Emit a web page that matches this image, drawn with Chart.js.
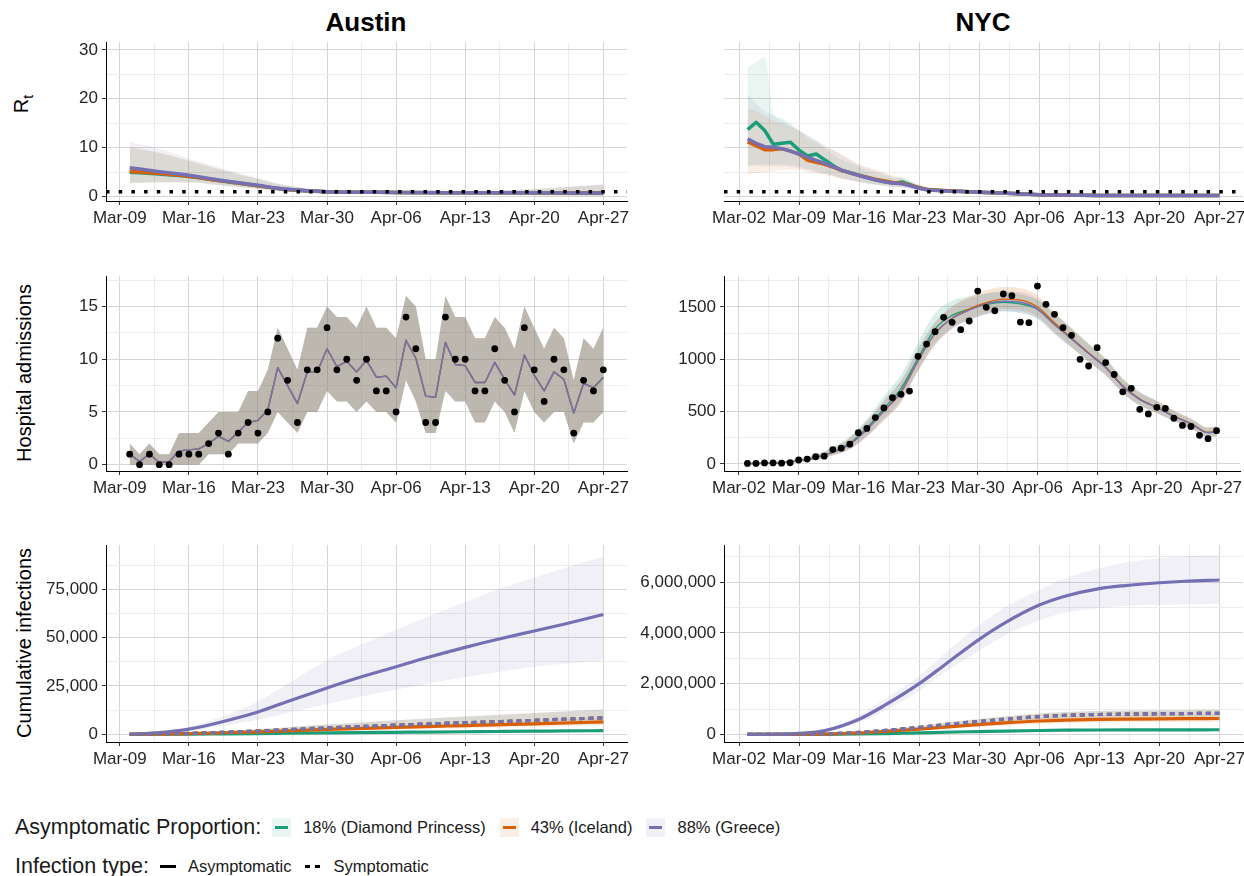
<!DOCTYPE html>
<html>
<head>
<meta charset="utf-8">
<script src="https://cdn.jsdelivr.net/npm/chart.js@4.4.1/dist/chart.umd.min.js"></script>
<style>
  body { margin: 0; background: #fff; width: 1244px; height: 876px; position: relative; overflow: hidden;
         font-family: 'Liberation Sans', Arial, sans-serif; color: #000; }
  canvas { position: absolute; }
  .ttl { position: absolute; font-weight: bold; font-size: 26px; line-height: 30px; transform: translateX(-50%); white-space: nowrap; }
  .ylab { position: absolute; font-size: 20px; line-height: 24px; white-space: nowrap; transform: translate(-50%, -50%) rotate(-90deg); }
  .ylab sub { font-size: 14px; }
  .leg { position: absolute; left: 15px; display: flex; align-items: center; height: 26px; white-space: nowrap; color: #1a1a1a; }
  .lt { font-size: 21.5px; margin-right: 11px; }
  .ll { font-size: 16.5px; margin-right: 14px; }
  .key { position: relative; width: 19px; height: 19px; margin-right: 12px; }
  .key i { position: absolute; left: 3px; right: 3px; top: 8px; height: 3px; }
  .lk { position: relative; width: 16px; height: 18px; margin-right: 12px; }
  .lk i { position: absolute; top: 7.5px; height: 3px; background: #000; }
</style>
</head>
<body>
<div class="ttl" style="left:366px;top:7px">Austin</div>
<div class="ttl" style="left:983px;top:7px">NYC</div>
<div class="ylab" style="left:24px;top:104px">R<sub>t</sub></div>
<div class="ylab" style="left:24px;top:373px">Hospital admissions</div>
<div class="ylab" style="left:24px;top:643px">Cumulative infections</div>

<canvas id="austinRt"></canvas>
<canvas id="nycRt"></canvas>
<canvas id="austinHosp"></canvas>
<canvas id="nycHosp"></canvas>
<canvas id="austinCum"></canvas>
<canvas id="nycCum"></canvas>

<div class="leg" style="top:814px">
  <span class="lt">Asymptomatic Proportion:</span>
  <span class="key" style="background:rgba(27,158,119,0.1)"><i style="background:#1b9e77"></i></span><span class="ll">18% (Diamond Princess)</span>
  <span class="key" style="background:rgba(217,95,2,0.1)"><i style="background:#d95f02"></i></span><span class="ll">43% (Iceland)</span>
  <span class="key" style="background:rgba(117,112,179,0.1)"><i style="background:#7570b3"></i></span><span class="ll">88% (Greece)</span>
</div>
<div class="leg" style="top:853px">
  <span class="lt">Infection type:</span>
  <span class="lk"><i style="left:0;width:16px"></i></span><span class="ll">Asymptomatic</span>
  <span class="lk"><i style="left:0;width:5px"></i><i style="left:10px;width:5px"></i></span><span class="ll">Symptomatic</span>
</div>

<script>
// Dates are day numbers counted from Mar 1 (Mar-02 = 2, Apr-27 = 58)
const austinTickDays = [9, 16, 23, 30, 37, 44, 51, 58];
const austinTickLabels = ['Mar-09', 'Mar-16', 'Mar-23', 'Mar-30', 'Apr-06', 'Apr-13', 'Apr-20', 'Apr-27'];
const nycTickDays = [2, 9, 16, 23, 30, 37, 44, 51, 58];
const nycTickLabels = ['Mar-02', 'Mar-09', 'Mar-16', 'Mar-23', 'Mar-30', 'Apr-06', 'Apr-13', 'Apr-20', 'Apr-27'];

const rtThreshold = 1;

// ---- Rt, Austin
const austinRtDays = [10, 13, 16, 19, 23, 26, 30, 37, 44, 51, 58];
const austinRtGreen = [5.0, 4.6, 4.1, 3.3, 2.2, 1.45, 1.0, 0.85, 0.8, 0.78, 0.75];
const austinRtOrange = [5.2, 4.7, 4.15, 3.3, 2.2, 1.45, 1.0, 0.85, 0.8, 0.78, 0.75];
const austinRtPurple = [5.9, 5.1, 4.35, 3.4, 2.3, 1.5, 1.0, 0.85, 0.8, 0.78, 0.75];
const austinRtGreenHi = [10.0, 8.9, 7.3, 5.6, 3.6, 2.2, 1.3, 1.0, 1.05, 1.5, 2.4];
const austinRtGreenLo = [2.7, 2.9, 2.9, 2.3, 1.6, 1.0, 0.7, 0.6, 0.45, 0.25, 0.1];
const austinRtOrangeHi = [10.2, 9.0, 7.4, 5.7, 3.6, 2.2, 1.3, 1.0, 1.05, 1.5, 2.4];
const austinRtOrangeLo = [2.7, 2.9, 2.9, 2.3, 1.6, 1.0, 0.7, 0.6, 0.45, 0.25, 0.1];
const austinRtPurpleHi = [11.2, 9.8, 7.8, 6.0, 3.8, 2.3, 1.35, 1.05, 1.1, 1.6, 2.6];
const austinRtPurpleLo = [2.9, 3.0, 3.0, 2.4, 1.6, 1.0, 0.7, 0.6, 0.45, 0.25, 0.1];

// ---- Rt, NYC
const nycRtDays = [3, 4, 5, 6, 7, 8, 9, 10, 11, 12, 13, 14, 15, 16, 17, 18, 19, 20, 21, 22, 23, 24, 25, 27, 30, 34, 37, 44, 51, 58];
const nycRtGreen = [13.7, 15.2, 13.5, 10.7, 10.9, 11.1, 9.5, 8.3, 8.7, 7.5, 6.3, 5.3, 4.9, 4.4, 3.9, 3.4, 3.1, 2.7, 3.0, 2.4, 1.8, 1.4, 1.3, 1.12, 0.9, 0.65, 0.4, 0.22, 0.2, 0.2];
const nycRtOrange = [11.2, 10.4, 9.6, 9.6, 9.8, 9.3, 8.7, 7.4, 7.0, 6.6, 6.0, 5.3, 4.8, 4.3, 3.9, 3.5, 3.2, 2.9, 2.7, 2.3, 1.8, 1.4, 1.3, 1.12, 0.9, 0.65, 0.4, 0.22, 0.2, 0.2];
const nycRtPurple = [11.8, 10.9, 10.2, 10.1, 9.8, 9.3, 8.7, 8.0, 7.4, 6.8, 6.1, 5.4, 4.8, 4.3, 3.8, 3.4, 3.0, 2.8, 2.6, 2.2, 1.7, 1.35, 1.25, 1.1, 0.9, 0.65, 0.4, 0.22, 0.2, 0.2];
const nycRtGreenHi = [26.5, 27.5, 28.5, 17, 16, 15, 13.5, 12.5, 11.5, 10, 8.5, 7.5, 6.8, 6.0, 5.3, 4.8, 4.3, 3.8, 4.0, 3.2, 2.4, 1.9, 1.7, 1.4, 1.15, 0.9, 0.6, 0.35, 0.32, 0.32];
const nycRtGreenLo = [6, 6.5, 6.5, 6.5, 6.5, 6.5, 6.2, 5.6, 5.3, 4.8, 4.3, 3.7, 3.4, 3.0, 2.7, 2.4, 2.2, 1.9, 2.1, 1.7, 1.3, 1.05, 0.95, 0.85, 0.7, 0.45, 0.25, 0.12, 0.1, 0.1];
const nycRtOrangeHi = [18, 17.5, 16.5, 15.5, 15, 14.5, 13.5, 12, 11, 10, 9.5, 8.5, 7.5, 6.5, 6.0, 5.5, 4.8, 4.2, 3.8, 3.0, 2.3, 1.9, 1.7, 1.4, 1.15, 0.9, 0.6, 0.35, 0.32, 0.32];
const nycRtOrangeLo = [4.5, 4.8, 5.0, 5.2, 5.5, 5.5, 5.5, 5.0, 4.8, 4.4, 4.0, 3.6, 3.3, 3.0, 2.7, 2.4, 2.2, 2.0, 1.9, 1.6, 1.3, 1.05, 0.95, 0.85, 0.7, 0.45, 0.25, 0.12, 0.1, 0.1];
const nycRtPurpleHi = [21, 19, 17.5, 16.5, 15.5, 14.5, 13.5, 12.5, 11.5, 10.5, 9.5, 8.5, 7.5, 6.5, 5.8, 5.2, 4.6, 4.1, 3.7, 3.0, 2.3, 1.9, 1.7, 1.4, 1.15, 0.9, 0.6, 0.35, 0.32, 0.32];
const nycRtPurpleLo = [6.5, 6.3, 6.2, 6.2, 6.2, 6.0, 5.8, 5.4, 5.0, 4.6, 4.2, 3.7, 3.3, 3.0, 2.7, 2.4, 2.2, 2.0, 1.9, 1.6, 1.3, 1.05, 0.95, 0.85, 0.7, 0.45, 0.25, 0.12, 0.1, 0.1];

// ---- Hospital admissions, Austin (daily Mar-10 .. Apr-27)
const austinHospObserved = [1, 0, 1, 0, 0, 1, 1, 1, 2, 3, 1, 3, 4, 3, 5, 12, 8, 4, 9, 9, 13, 9, 10, 8, 10, 7, 7, 5, 14, 11, 4, 4, 14, 10, 10, 7, 7, 11, 8, 5, 13, 9, 6, 10, 9, 3, 8, 7, 9];
const austinHospFit = [1.0, 0.3, 1.0, 0.2, 0.3, 1.3, 1.4, 1.5, 2.0, 2.7, 2.2, 3.1, 4.0, 4.2, 5.2, 9.2, 7.5, 5.8, 8.8, 8.8, 11.0, 9.3, 9.8, 8.8, 9.9, 8.3, 8.4, 7.3, 11.8, 10.1, 6.5, 6.4, 11.6, 9.5, 9.4, 7.8, 7.8, 9.7, 8.1, 6.6, 10.4, 8.5, 7.0, 8.8, 8.1, 4.9, 7.7, 7.3, 8.3];
const austinHospHi = [2, 1, 2, 1, 1, 3, 3, 3, 4, 5, 5, 5, 7, 7, 9, 13, 11, 9, 13, 13, 15, 14, 14, 13, 15, 13, 13, 12, 16, 15, 10, 10, 16, 14, 14, 12, 12, 14, 13, 11, 15, 13, 11, 13, 12, 8, 12, 11, 13];
const austinHospLo = [0, 0, 0, 0, 0, 0, 0, 0, 1, 1, 1, 2, 2, 2, 3, 5, 4, 3, 5, 5, 7, 6, 6, 5, 6, 5, 5, 4, 8, 6, 3, 3, 7, 6, 6, 4, 4, 6, 5, 3, 7, 5, 4, 5, 5, 2, 4, 4, 5];

// ---- Hospital admissions, NYC (daily Mar-03 .. Apr-27)
const nycHospObserved = [5, 5, 10, 10, 8, 12, 38, 47, 69, 75, 138, 151, 189, 299, 340, 443, 535, 633, 666, 697, 1029, 1146, 1264, 1401, 1353, 1283, 1366, 1652, 1497, 1464, 1624, 1608, 1356, 1350, 1700, 1525, 1430, 1302, 1229, 1000, 936, 1111, 969, 855, 689, 723, 522, 478, 541, 531, 437, 368, 358, 274, 242, 318];
const nycHospFitDays = [3, 5, 7, 9, 11, 13, 15, 17, 19, 21, 23, 25, 27, 29, 31, 33, 35, 37, 39, 41, 43, 45, 47, 49, 51, 53, 55, 57, 58];
const nycHospFitGreen = [3, 7, 14, 32, 63, 115, 200, 345, 530, 720, 1010, 1290, 1420, 1480, 1525, 1545, 1530, 1480, 1340, 1200, 1060, 925, 745, 620, 540, 455, 385, 300, 308];
const nycHospFitOrange = [3, 7, 14, 30, 60, 110, 190, 330, 505, 685, 985, 1245, 1395, 1480, 1540, 1575, 1565, 1500, 1350, 1200, 1060, 925, 745, 620, 542, 457, 387, 302, 310];
const nycHospFitPurple = [3, 7, 14, 30, 60, 110, 190, 330, 510, 690, 990, 1250, 1390, 1470, 1530, 1555, 1545, 1480, 1330, 1195, 1055, 920, 740, 615, 540, 455, 385, 300, 308];
const nycHospGreenHi = [8, 14, 26, 50, 92, 160, 265, 430, 650, 850, 1160, 1440, 1560, 1600, 1630, 1640, 1620, 1570, 1440, 1300, 1150, 1010, 820, 690, 605, 510, 435, 350, 360];
const nycHospGreenLo = [0, 3, 8, 20, 43, 85, 150, 270, 440, 610, 900, 1160, 1300, 1380, 1430, 1460, 1440, 1390, 1250, 1115, 980, 850, 680, 560, 488, 412, 342, 258, 265];
const nycHospOrangeHi = [7, 13, 24, 46, 85, 150, 250, 410, 600, 790, 1090, 1350, 1510, 1600, 1660, 1690, 1680, 1610, 1450, 1300, 1150, 1005, 815, 685, 605, 510, 435, 350, 360];
const nycHospOrangeLo = [0, 3, 7, 18, 40, 80, 140, 260, 415, 585, 885, 1135, 1295, 1380, 1440, 1480, 1470, 1410, 1260, 1115, 980, 850, 680, 560, 488, 412, 342, 258, 265];
const nycHospPurpleHi = [7, 13, 24, 46, 85, 150, 250, 410, 610, 800, 1100, 1360, 1500, 1580, 1630, 1650, 1640, 1580, 1430, 1290, 1140, 1000, 810, 680, 600, 505, 430, 345, 355];
const nycHospPurpleLo = [0, 3, 7, 18, 40, 80, 140, 260, 420, 590, 890, 1140, 1290, 1370, 1430, 1460, 1450, 1390, 1240, 1110, 975, 845, 675, 555, 485, 410, 340, 255, 262];

// ---- Cumulative infections, Austin
const austinCumDays = [10, 13, 16, 19, 23, 26, 30, 33, 37, 40, 44, 47, 51, 54, 58];
const austinAsymGreen = [0, 33, 100, 210, 370, 530, 720, 860, 1030, 1160, 1320, 1430, 1580, 1720, 1870];
const austinAsymGreenHi = [0, 45, 135, 280, 500, 710, 970, 1160, 1390, 1570, 1780, 1930, 2130, 2320, 2520];
const austinAsymGreenLo = [0, 25, 70, 150, 260, 370, 500, 600, 720, 810, 920, 1000, 1110, 1200, 1310];
const austinAsymOrange = [0, 110, 340, 720, 1280, 1800, 2500, 2950, 3550, 4000, 4500, 4900, 5400, 5850, 6400];
const austinAsymOrangeHi = [0, 150, 460, 970, 1730, 2430, 3380, 3980, 4790, 5400, 6080, 6620, 7290, 7900, 8640];
const austinAsymOrangeLo = [0, 80, 240, 500, 900, 1260, 1750, 2070, 2490, 2800, 3150, 3430, 3780, 4100, 4480];
const austinAsymPurple = [0, 900, 2700, 6000, 11500, 17000, 24000, 29000, 35000, 39500, 45000, 48800, 53500, 57000, 62000];
const austinAsymPurpleHi = [0, 1200, 3800, 8500, 17000, 26000, 38500, 45500, 54000, 60500, 68500, 74500, 81000, 86000, 92000];
const austinAsymPurpleLo = [0, 700, 1800, 4000, 7500, 11000, 15500, 19000, 23000, 26000, 29500, 32000, 35000, 36500, 38200];
const austinSymp = [0, 150, 450, 950, 1700, 2400, 3300, 3900, 4700, 5300, 6000, 6500, 7200, 7800, 8500];
const austinSympHi = [0, 200, 700, 1400, 2600, 3600, 5000, 6000, 7200, 8100, 9200, 10000, 11000, 11800, 12800];
const austinSympLo = [0, 100, 300, 600, 1100, 1600, 2200, 2600, 3100, 3500, 4000, 4300, 4700, 5000, 5500];

// ---- Cumulative infections, NYC
const nycCumDays = [3, 6, 9, 12, 16, 19, 23, 26, 30, 33, 37, 40, 44, 47, 51, 54, 58];
const nycAsymGreen = [0, 330, 1300, 4200, 17600, 34000, 60500, 85000, 112000, 132000, 154000, 165000, 173000, 176000, 179000, 181000, 183000];
const nycAsymGreenHi = [0, 450, 1750, 5700, 23800, 46000, 82000, 115000, 151000, 178000, 208000, 223000, 234000, 238000, 242000, 244000, 247000];
const nycAsymGreenLo = [0, 240, 950, 3000, 12700, 24500, 43500, 61000, 81000, 95000, 111000, 119000, 125000, 127000, 129000, 130000, 132000];
const nycAsymOrange = [0, 1100, 4500, 14000, 60000, 117000, 207000, 290000, 385000, 452000, 528000, 565000, 592000, 603000, 614000, 620000, 626000];
const nycAsymOrangeHi = [0, 1400, 5800, 18000, 77000, 150000, 265000, 370000, 490000, 575000, 670000, 720000, 755000, 770000, 783000, 790000, 798000];
const nycAsymOrangeLo = [0, 850, 3500, 11000, 47000, 92000, 162000, 227000, 300000, 352000, 412000, 440000, 462000, 470000, 479000, 484000, 488000];
const nycAsymPurple = [0, 10000, 40000, 150000, 600000, 1150000, 2000000, 2750000, 3750000, 4400000, 5100000, 5450000, 5750000, 5870000, 5980000, 6040000, 6090000];
const nycAsymPurpleHi = [0, 15000, 60000, 200000, 750000, 1400000, 2300000, 3200000, 4300000, 5000000, 5700000, 6150000, 6550000, 6780000, 6950000, 7030000, 7080000];
const nycAsymPurpleLo = [0, 6000, 25000, 100000, 470000, 930000, 1700000, 2450000, 3300000, 3900000, 4500000, 4800000, 4980000, 5060000, 5110000, 5130000, 5150000];
const nycSymp = [0, 1500, 6000, 19000, 80000, 155000, 275000, 385000, 510000, 600000, 700000, 750000, 785000, 800000, 815000, 823000, 830000];
const nycSympHi = [0, 2000, 7500, 24000, 100000, 190000, 330000, 460000, 610000, 710000, 820000, 880000, 920000, 940000, 955000, 965000, 970000];
const nycSympLo = [0, 1200, 4800, 15000, 65000, 125000, 225000, 320000, 420000, 500000, 590000, 630000, 660000, 675000, 690000, 697000, 700000];

// ---------------------------------------------------------------
const FONT = "'Liberation Sans', Arial, sans-serif";
const TXT = '#262626';
const GREEN = '#1b9e77', ORANGE = '#d95f02', PURPLE = '#7570b3';
const GRID_MAJOR = '#d6d6d6', GRID_MINOR = '#ebebeb';

function rgba(hex, a) {
    const n = parseInt(hex.slice(1), 16);
    return `rgba(${n >> 16},${(n >> 8) & 255},${n & 255},${a})`;
}

function xy(days, vals) {
    return vals.map((v, i) => ({ x: days[i], y: v }));
}

function dayRange(from, to) {
    const d = [];
    for (let i = from; i <= to; i++) d.push(i);
    return d;
}

function band(days, lo, hi, color, alpha, order, smooth) {
    const base = { pointRadius: 0, borderWidth: 0, borderColor: 'transparent', order: order, tension: 0,
                   cubicInterpolationMode: smooth ? 'monotone' : 'default' };
    return [
        Object.assign({}, base, { data: xy(days, lo), fill: false }),
        Object.assign({}, base, { data: xy(days, hi), fill: '-1', backgroundColor: rgba(color, alpha) })
    ];
}

function line(days, vals, color, width, order, extra) {
    return Object.assign({
        data: xy(days, vals), borderColor: color, borderWidth: width, pointRadius: 0, fill: false,
        order: order, tension: 0, borderJoinStyle: 'round'
    }, extra || {});
}

function dots(days, vals) {
    return { data: xy(days, vals), showLine: false, pointRadius: 3.4, pointBackgroundColor: '#000',
             pointBorderWidth: 0, borderColor: '#000', order: 1 };
}

function hline(xmin, xmax, val) {
    return { data: [{ x: xmin, y: val }, { x: xmax, y: val }], borderColor: '#000', borderWidth: 3.5,
             borderDash: [3.5, 9.2], borderCapStyle: 'butt', pointRadius: 0, fill: false, order: 3 };
}

function withMinors(majors) {
    const all = majors.slice();
    for (let i = 0; i < majors.length - 1; i++) all.push((majors[i] + majors[i + 1]) / 2);
    return all;
}

function gridOpts(majors) {
    return {
        color: c => (c.tick && majors.includes(c.tick.value)) ? GRID_MAJOR : GRID_MINOR,
        lineWidth: 1,
        tickLength: 4,
        tickWidth: 1,
        tickColor: c => (c.tick && majors.includes(c.tick.value)) ? '#333' : 'rgba(0,0,0,0)'
    };
}

function xScale(min, max, majors, labels) {
    const extra = [majors[0] - 3.5, majors[majors.length - 1] + 3.5].filter(v => v > min && v < max);
    const all = withMinors(majors).concat(extra).sort((a, b) => a - b);
    return {
        type: 'linear', min: min, max: max,
        afterBuildTicks: s => { s.ticks = all.map(v => ({ value: v })); },
        afterFit: s => { s.height = 30; s.paddingLeft = 0; s.paddingRight = 0; },
        ticks: {
            autoSkip: false, maxRotation: 0, minRotation: 0, padding: 3, color: TXT,
            font: { family: FONT, size: 17 },
            callback: v => { const i = majors.indexOf(v); return i < 0 ? '' : labels[i]; }
        },
        grid: gridOpts(majors),
        border: { display: true, color: '#000', width: 1 }
    };
}

function yScale(min, max, majors, fmt, width, show) {
    const all = withMinors(majors).concat([majors[majors.length - 1] + (majors[1] - majors[0]) / 2])
        .filter(v => v > min && v < max).sort((a, b) => a - b);
    return {
        type: 'linear', min: min, max: max,
        afterBuildTicks: s => { s.ticks = all.map(v => ({ value: v })); },
        afterFit: s => { s.width = width; s.paddingTop = 0; s.paddingBottom = 0; },
        ticks: {
            display: show, padding: 4, color: TXT, font: { family: FONT, size: 17 },
            callback: v => majors.includes(v) ? fmt(v) : ''
        },
        grid: Object.assign(gridOpts(majors), show ? {} : { tickColor: 'rgba(0,0,0,0)' }),
        border: { display: show, color: '#000', width: 1 }
    };
}

// plot-area boxes (page pixels)
const PAD_TOP = 10, X_H = 30;
function panel(id, box, yw, padRight, datasets, xs, ys) {
    const cv = document.getElementById(id);
    const w = box.r + padRight - (box.l - yw);
    const h = box.b + X_H - (box.t - PAD_TOP);
    cv.width = w; cv.height = h;
    cv.style.width = w + 'px'; cv.style.height = h + 'px';
    cv.style.left = (box.l - yw) + 'px';
    cv.style.top = (box.t - PAD_TOP) + 'px';
    return new Chart(cv.getContext('2d'), {
        type: 'line',
        data: { datasets: datasets },
        options: {
            responsive: false, animation: false, events: [],
            layout: { padding: { top: PAD_TOP, right: padRight, left: 0, bottom: 0 } },
            plugins: { legend: { display: false }, tooltip: { enabled: false } },
            scales: { x: xs, y: ys }
        }
    });
}

const AUS_MIN = 7.6, AUS_MAX = 60.4, NYC_MIN = 0.25, NYC_MAX = 60.75;
const plain = v => String(v);
const comma = v => v.toLocaleString('en-US');

// Row 1: Rt
panel('austinRt', { l: 106, r: 627, t: 42, b: 201 }, 66, 12, [
    ...band(austinRtDays, austinRtGreenLo, austinRtGreenHi, GREEN, 0.1, 12, true),
    ...band(austinRtDays, austinRtOrangeLo, austinRtOrangeHi, ORANGE, 0.1, 11, true),
    ...band(austinRtDays, austinRtPurpleLo, austinRtPurpleHi, PURPLE, 0.1, 10, true),
    line(austinRtDays, austinRtGreen, GREEN, 3.5, 7, { cubicInterpolationMode: 'monotone' }),
    line(austinRtDays, austinRtOrange, ORANGE, 3.5, 6, { cubicInterpolationMode: 'monotone' }),
    line(austinRtDays, austinRtPurple, PURPLE, 3.5, 5, { cubicInterpolationMode: 'monotone' }),
    hline(AUS_MIN, AUS_MAX, rtThreshold)
], xScale(AUS_MIN, AUS_MAX, austinTickDays, austinTickLabels),
   yScale(-0.9, 31.6, [0, 10, 20, 30], plain, 66, true));

panel('nycRt', { l: 724, r: 1243, t: 42, b: 201 }, 100, 1, [
    ...band(nycRtDays, nycRtGreenLo, nycRtGreenHi, GREEN, 0.1, 12, true),
    ...band(nycRtDays, nycRtOrangeLo, nycRtOrangeHi, ORANGE, 0.1, 11, true),
    ...band(nycRtDays, nycRtPurpleLo, nycRtPurpleHi, PURPLE, 0.1, 10, true),
    line(nycRtDays, nycRtGreen, GREEN, 3.5, 7),
    line(nycRtDays, nycRtOrange, ORANGE, 3.5, 6),
    line(nycRtDays, nycRtPurple, PURPLE, 3.5, 5),
    hline(NYC_MIN, NYC_MAX, rtThreshold)
], xScale(NYC_MIN, NYC_MAX, nycTickDays, nycTickLabels),
   yScale(-0.9, 31.6, [0, 10, 20, 30], plain, 100, false));

// Row 2: hospital admissions
const austinDays = dayRange(10, 58);
const nycDays = dayRange(3, 58);
panel('austinHosp', { l: 106, r: 627, t: 276, b: 471 }, 66, 12, [
    ...band(austinDays, austinHospLo, austinHospHi, GREEN, 0.22, 12, false),
    ...band(austinDays, austinHospLo, austinHospHi, ORANGE, 0.22, 11, false),
    ...band(austinDays, austinHospLo, austinHospHi, PURPLE, 0.22, 10, false),
    line(austinDays, austinHospFit, GREEN, 1.4, 7),
    line(austinDays, austinHospFit, ORANGE, 1.4, 6),
    line(austinDays, austinHospFit, PURPLE, 1.4, 5),
    dots(austinDays, austinHospObserved)
], xScale(AUS_MIN, AUS_MAX, austinTickDays, austinTickLabels),
   yScale(-0.6, 17.9, [0, 5, 10, 15], plain, 66, true));

panel('nycHosp', { l: 724, r: 1243, t: 276, b: 471 }, 100, 1, [
    ...band(nycHospFitDays, nycHospGreenLo, nycHospGreenHi, GREEN, 0.16, 12, true),
    ...band(nycHospFitDays, nycHospOrangeLo, nycHospOrangeHi, ORANGE, 0.16, 11, true),
    ...band(nycHospFitDays, nycHospPurpleLo, nycHospPurpleHi, PURPLE, 0.16, 10, true),
    line(nycHospFitDays, nycHospFitGreen, GREEN, 1.4, 7, { cubicInterpolationMode: 'monotone' }),
    line(nycHospFitDays, nycHospFitOrange, ORANGE, 1.4, 6, { cubicInterpolationMode: 'monotone' }),
    line(nycHospFitDays, nycHospFitPurple, PURPLE, 1.4, 5, { cubicInterpolationMode: 'monotone' }),
    dots(nycDays, nycHospObserved)
], xScale(NYC_MIN, NYC_MAX, nycTickDays, nycTickLabels),
   yScale(-67, 1796, [0, 500, 1000, 1500], plain, 100, true));

// Row 3: cumulative infections
const dash = { borderDash: [5, 4], cubicInterpolationMode: 'monotone' };
const smooth = { cubicInterpolationMode: 'monotone' };
panel('austinCum', { l: 106, r: 627, t: 545, b: 742 }, 66, 12, [
    ...band(austinCumDays, austinSympLo, austinSympHi, GREEN, 0.1, 15, true),
    ...band(austinCumDays, austinSympLo, austinSympHi, ORANGE, 0.1, 14, true),
    ...band(austinCumDays, austinSympLo, austinSympHi, PURPLE, 0.1, 13, true),
    ...band(austinCumDays, austinAsymGreenLo, austinAsymGreenHi, GREEN, 0.1, 12, true),
    ...band(austinCumDays, austinAsymOrangeLo, austinAsymOrangeHi, ORANGE, 0.1, 11, true),
    ...band(austinCumDays, austinAsymPurpleLo, austinAsymPurpleHi, PURPLE, 0.1, 10, true),
    line(austinCumDays, austinAsymGreen, GREEN, 3.2, 7, smooth),
    line(austinCumDays, austinAsymOrange, ORANGE, 3.2, 6, smooth),
    line(austinCumDays, austinAsymPurple, PURPLE, 3.2, 5, smooth),
    line(austinCumDays, austinSymp, GREEN, 3.2, 4.2, dash),
    line(austinCumDays, austinSymp, ORANGE, 3.2, 4.1, dash),
    line(austinCumDays, austinSymp, PURPLE, 3.2, 4.0, dash)
], xScale(AUS_MIN, AUS_MAX, austinTickDays, austinTickLabels),
   yScale(-4000, 98000, [0, 25000, 50000, 75000], comma, 66, true));

panel('nycCum', { l: 724, r: 1243, t: 545, b: 742 }, 100, 1, [
    ...band(nycCumDays, nycSympLo, nycSympHi, GREEN, 0.1, 15, true),
    ...band(nycCumDays, nycSympLo, nycSympHi, ORANGE, 0.1, 14, true),
    ...band(nycCumDays, nycSympLo, nycSympHi, PURPLE, 0.1, 13, true),
    ...band(nycCumDays, nycAsymGreenLo, nycAsymGreenHi, GREEN, 0.1, 12, true),
    ...band(nycCumDays, nycAsymOrangeLo, nycAsymOrangeHi, ORANGE, 0.1, 11, true),
    ...band(nycCumDays, nycAsymPurpleLo, nycAsymPurpleHi, PURPLE, 0.1, 10, true),
    line(nycCumDays, nycAsymGreen, GREEN, 3.2, 7, smooth),
    line(nycCumDays, nycAsymOrange, ORANGE, 3.2, 6, smooth),
    line(nycCumDays, nycAsymPurple, PURPLE, 3.2, 5, smooth),
    line(nycCumDays, nycSymp, GREEN, 3.2, 4.2, dash),
    line(nycCumDays, nycSymp, ORANGE, 3.2, 4.1, dash),
    line(nycCumDays, nycSymp, PURPLE, 3.2, 4.0, dash)
], xScale(NYC_MIN, NYC_MAX, nycTickDays, nycTickLabels),
   yScale(-300000, 7470000, [0, 2000000, 4000000, 6000000], comma, 100, true));
</script>
</body>
</html>
